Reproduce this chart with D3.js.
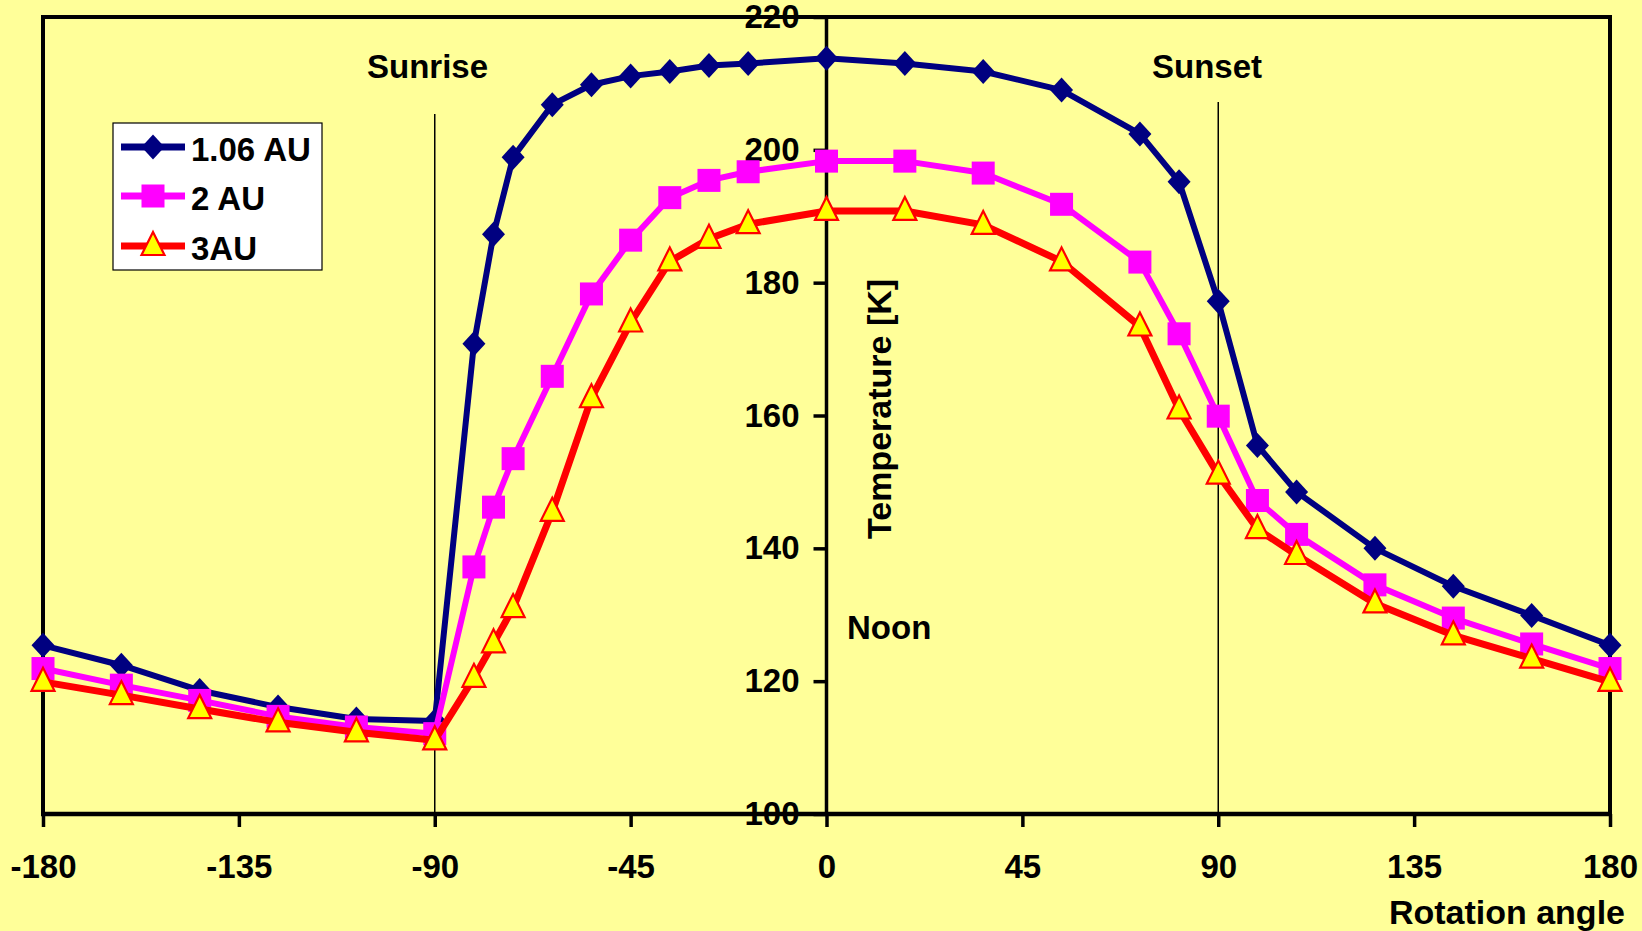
<!DOCTYPE html>
<html>
<head>
<meta charset="utf-8">
<script src="https://cdn.jsdelivr.net/npm/d3@7"></script>
<style>
  html, body { margin: 0; padding: 0; background: #FFFF99; }
  svg { display: block; }
  text { font-family: "Liberation Sans", Arial, sans-serif; font-weight: bold; fill: #000; }
</style>
</head>
<body>
<svg id="chart" width="1642" height="931"></svg>
<script>
// ---- data ----
const angles = [-180, -162, -144, -126, -108, -90, -81, -76.5, -72, -63, -54, -45, -36, -27, -18,
                0, 18, 36, 54, 72, 81, 90, 99, 108, 126, 144, 162, 180];
const au106 = [125.4, 122.4, 118.6, 116.1, 114.3, 114.0, 170.8, 187.3, 198.9, 206.8, 209.8, 211.1, 211.8, 212.7, 213.0,
               213.8, 213.0, 211.8, 209.0, 202.4, 195.2, 177.2, 155.5, 148.5, 140.0, 134.3, 129.9, 125.4];
const au2 = [121.9, 119.4, 117.1, 114.7, 113.1, 112.1, 137.2, 146.2, 153.5, 165.9, 178.3, 186.4, 192.8, 195.4, 196.7,
             198.3, 198.3, 196.5, 191.8, 183.1, 172.3, 159.9, 147.2, 142.1, 134.5, 129.5, 125.6, 121.9];
const au3 = [119.9, 117.9, 115.8, 113.8, 112.3, 111.1, 120.5, 125.7, 131.0, 145.5, 162.6, 174.0, 183.2, 186.6, 188.8,
             190.8, 190.8, 188.7, 183.2, 173.4, 160.9, 151.1, 142.9, 139.0, 131.7, 126.9, 123.4, 119.9];
const seriesNames = ["1.06 AU", "2 AU", "3AU"];
const xTicks = [-180, -135, -90, -45, 0, 45, 90, 135, 180];
const yTicks = [100, 120, 140, 160, 180, 200, 220];
const markerLines = [-90, 90];

// ---- layout ----
const svg = d3.select("#chart");
const X0 = 43, X1 = 1610, Y0 = 814, Y1 = 17;
const x = d3.scaleLinear().domain([-180, 180]).range([X0, X1]);
const y = d3.scaleLinear().domain([100, 220]).range([Y0, Y1]);
const FS = 33;

svg.append("rect").attr("width", 1642).attr("height", 931).attr("fill", "#FFFF99");

// plot frame (left, top, right)
svg.append("path")
  .attr("d", `M${X0},${Y0} L${X0},${Y1} L${X1},${Y1} L${X1},${Y0}`)
  .attr("fill", "none").attr("stroke", "#000").attr("stroke-width", 4);

// sunrise / sunset lines
const lineTops = {"-90": 114, "90": 102};
markerLines.forEach(a => {
  svg.append("line")
    .attr("x1", x(a)).attr("x2", x(a))
    .attr("y1", lineTops[String(a)]).attr("y2", Y0)
    .attr("stroke", "#000").attr("stroke-width", 1.5);
});

const fmt = d => String(d);

// x axis
const xAxis = d3.axisBottom(x).tickValues(xTicks).tickSize(13).tickPadding(12).tickFormat(fmt);
const gx = svg.append("g").attr("transform", `translate(0,${Y0})`).call(xAxis);
gx.select(".domain").attr("stroke", "#000").attr("stroke-width", 4.5).attr("d", `M${X0 - 2},0H${X1 + 2}`);
gx.selectAll(".tick line").attr("stroke", "#000").attr("stroke-width", 3.5);
gx.selectAll(".tick text").attr("font-size", FS).attr("font-family", "Liberation Sans, Arial, sans-serif")
  .attr("font-weight", "bold").attr("fill", "#000").attr("dy", null).attr("y", 64);

// y axis at x = 0
const yAxis = d3.axisLeft(y).tickValues(yTicks).tickSize(13).tickPadding(14).tickFormat(fmt);
const gy = svg.append("g").attr("transform", `translate(${x(0)},0)`).call(yAxis);
gy.select(".domain").attr("stroke", "#000").attr("stroke-width", 3.5).attr("d", `M0,${Y1}V${Y0}`);
gy.selectAll(".tick line").attr("stroke", "#000").attr("stroke-width", 3.5);
gy.selectAll(".tick text").attr("font-size", FS).attr("font-family", "Liberation Sans, Arial, sans-serif")
  .attr("font-weight", "bold").attr("fill", "#000");

// ---- series ----
const series = [
  {name: seriesNames[0], vals: au106, color: "#000080", width: 6, marker: "diamond"},
  {name: seriesNames[1], vals: au2, color: "#FF00FF", width: 6, marker: "square"},
  {name: seriesNames[2], vals: au3, color: "#FF0000", width: 7, marker: "triangle"}
];

function drawMarker(g, kind, cx, cy, color) {
  if (kind === "diamond") {
    g.append("path").attr("d", `M${cx},${cy - 12.5} L${cx + 11.5},${cy} L${cx},${cy + 12.5} L${cx - 11.5},${cy} Z`)
      .attr("fill", color);
  } else if (kind === "square") {
    g.append("rect").attr("x", cx - 11.5).attr("y", cy - 11.5).attr("width", 23).attr("height", 23).attr("fill", color);
  } else {
    g.append("path").attr("d", `M${cx},${cy - 14} L${cx + 11.5},${cy + 9} L${cx - 11.5},${cy + 9} Z`)
      .attr("fill", "#FFFF00").attr("stroke", "#FF0000").attr("stroke-width", 2.2).attr("stroke-linejoin", "miter");
  }
}

const lineGen = d3.line().x(d => x(d[0])).y(d => y(d[1]));
series.forEach(s => {
  const pts = angles.map((a, i) => [a, s.vals[i]]);
  const g = svg.append("g");
  g.append("path").datum(pts).attr("d", lineGen).attr("fill", "none")
    .attr("stroke", s.color).attr("stroke-width", s.width).attr("stroke-linejoin", "round");
  pts.forEach(p => drawMarker(g, s.marker, x(p[0]), y(p[1]), s.color));
});

// ---- annotations ----
svg.append("text").attr("x", 367).attr("y", 78).attr("font-size", FS).text("Sunrise");
svg.append("text").attr("x", 1152).attr("y", 78).attr("font-size", FS).text("Sunset");
svg.append("text").attr("x", 847).attr("y", 639).attr("font-size", FS).text("Noon");
svg.append("text").attr("transform", "translate(891,539) rotate(-90)").attr("font-size", 34).text("Temperature [K]");
svg.append("text").attr("x", 1625).attr("y", 924).attr("text-anchor", "end").attr("font-size", 34).text("Rotation angle");

// ---- legend ----
const lg = svg.append("g");
lg.append("rect").attr("x", 113).attr("y", 123).attr("width", 209).attr("height", 147)
  .attr("fill", "#FFFFFF").attr("stroke", "#000").attr("stroke-width", 1.2);
const legY = [147, 196, 246];
series.forEach((s, i) => {
  lg.append("line").attr("x1", 121).attr("x2", 185).attr("y1", legY[i]).attr("y2", legY[i])
    .attr("stroke", s.color).attr("stroke-width", 7);
  drawMarker(lg, s.marker, 153, legY[i], s.color);
  lg.append("text").attr("x", 191).attr("y", legY[i] + 14).attr("font-size", FS).text(s.name);
});
</script>
</body>
</html>
